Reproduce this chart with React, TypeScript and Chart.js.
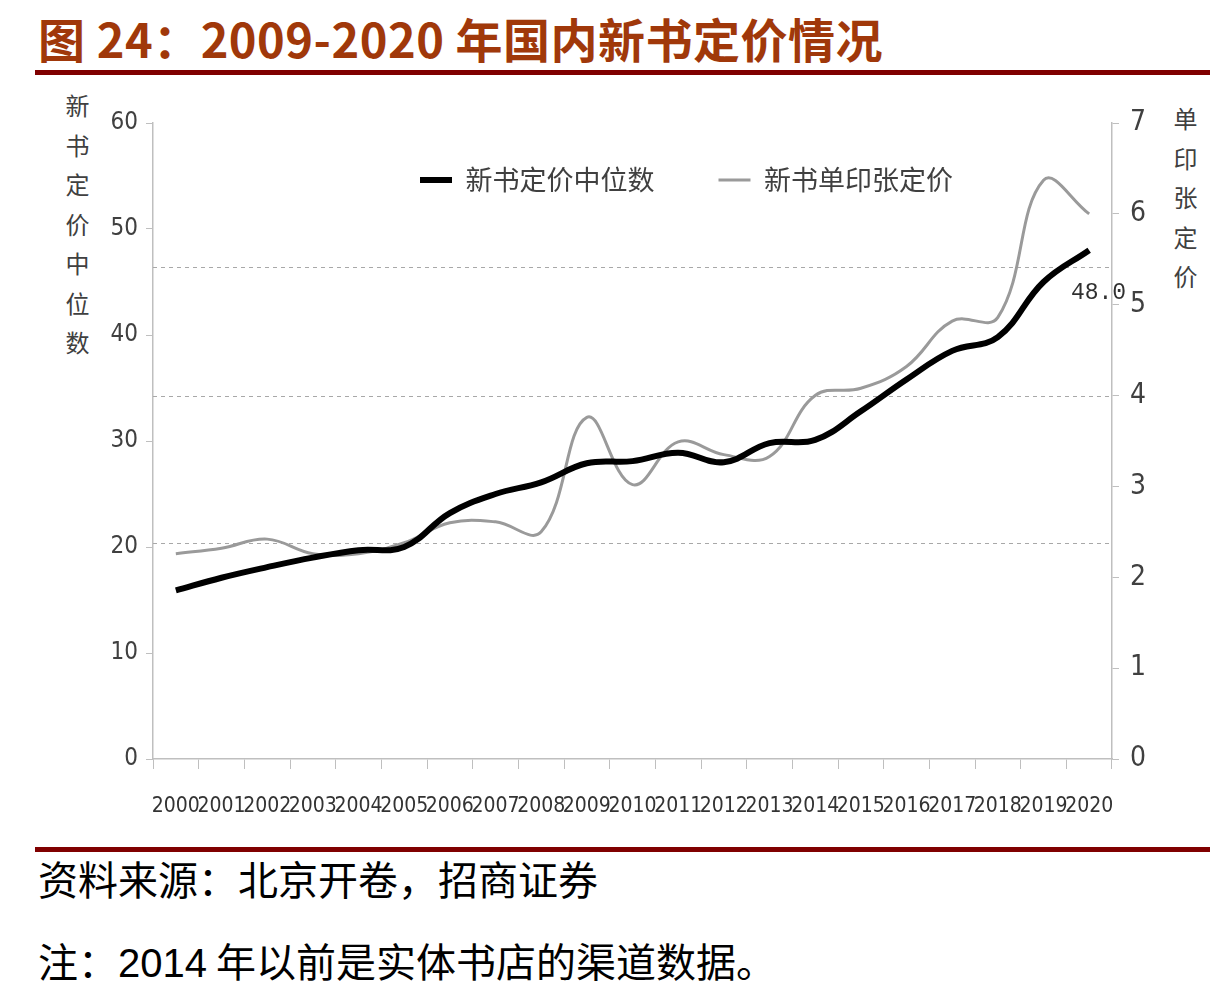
import React, { useEffect, useRef } from 'react';
import { Chart, registerables } from 'chart.js';

Chart.register(...registerables);

// ---- data ----
const years = ['2000', '2001', '2002', '2003', '2004', '2005', '2006', '2007', '2008', '2009', '2010',
  '2011', '2012', '2013', '2014', '2015', '2016', '2017', '2018', '2019', '2020'];
const medianPrice = [15.9, 17.1, 18.1, 19.0, 19.7, 20.0, 23.2, 25.0, 26.1, 27.9, 28.1,
  28.9, 28.0, 29.8, 30.1, 32.8, 35.8, 38.5, 39.8, 45.0, 48.0];
const sheetPrice = [2.26, 2.32, 2.42, 2.26, 2.26, 2.38, 2.6, 2.61, 2.5, 3.76, 3.02,
  3.49, 3.35, 3.33, 4.0, 4.08, 4.32, 4.82, 4.86, 6.37, 6.0];
const leftRange = [0, 60, 10];
const rightRange = [0, 7, 1];
const refLines = [2.38, 4.0, 5.41];
const seriesNames = ['新书定价中位数', '新书单印张定价'];

const TITLE = '图 24：2009-2020 年国内新书定价情况';
const LEFT_TITLE = '新书定价中位数';
const RIGHT_TITLE = '单印张定价';
const SOURCE = '资料来源：北京开卷，招商证券';

const CJK = "'Noto Sans CJK SC', 'Noto Sans', sans-serif";
const NUM = "'Liberation Sans Narrow', 'DejaVu Sans Condensed', 'Liberation Sans', Arial, sans-serif";
const AXIS = '#bfbfbf';
const TXT = '#404040';

const CANVAS_TOP = 80;
const LEG_X = 420;
const LEG_CY = 180;

const overlay = {
  id: 'overlay',
  afterLayout(chart: any) {
    const lg = chart.legend;
    if (!lg) return;
    const pad = lg.options.labels.padding;
    const fs = lg.options.labels.font.size;
    const top = LEG_CY - CANVAS_TOP - fs / 2;
    lg.left = LEG_X - pad;
    lg.right = chart.width;
    lg.top = top - pad;
    lg.bottom = top + fs + 10;
  },
  beforeDatasetsDraw(chart: any) {
    const { ctx, chartArea: a } = chart;
    const s = chart.scales.y1;
    ctx.save();
    ctx.strokeStyle = '#a8a8a8';
    ctx.lineWidth = 1;
    ctx.setLineDash([4, 4]);
    refLines.forEach((v) => {
      const y = Math.round(s.getPixelForValue(v)) + 0.5;
      ctx.beginPath();
      ctx.moveTo(a.left, y);
      ctx.lineTo(a.right, y);
      ctx.stroke();
    });
    ctx.restore();
  },
  afterDatasetsDraw(chart: any) {
    const { ctx } = chart;
    const meta = chart.getDatasetMeta(0);
    const pt = meta.data[meta.data.length - 1];
    if (!pt) return;
    ctx.save();
    ctx.font = "23px 'Liberation Mono', 'DejaVu Sans Mono', monospace";
    ctx.fillStyle = '#303030';
    ctx.textAlign = 'right';
    ctx.textBaseline = 'middle';
    ctx.fillText(medianPrice[medianPrice.length - 1].toFixed(1), pt.x + 37, pt.y + 43);
    ctx.restore();
  },
};

function ChartBox() {
  const ref = useRef<HTMLCanvasElement | null>(null);
  useEffect(() => {
    if (!ref.current) return;
    const chart = new Chart(ref.current, {
      type: 'line',
      data: {
        labels: years,
        datasets: [
          {
            label: seriesNames[0],
            data: medianPrice,
            yAxisID: 'y',
            borderColor: '#000000',
            backgroundColor: '#000000',
            borderWidth: 6,
            pointRadius: 0,
            tension: 0.4,
          },
          {
            label: seriesNames[1],
            data: sheetPrice,
            yAxisID: 'y1',
            borderColor: '#9a9a9a',
            backgroundColor: '#9a9a9a',
            borderWidth: 3,
            pointRadius: 0,
            tension: 0.4,
          },
        ],
      },
      options: {
        responsive: false,
        animation: false,
        events: [],
        layout: { padding: { top: 42, left: 0, right: 0, bottom: 0 } },
        plugins: {
          title: { display: false },
          tooltip: { enabled: false },
          legend: {
            display: true,
            position: 'top',
            align: 'start',
            maxHeight: 1,
            labels: {
              usePointStyle: true,
              pointStyle: 'line',
              pointStyleWidth: 32,
              boxHeight: 27,
              padding: 64,
              color: TXT,
              font: { family: CJK, size: 27 },
            },
          },
        },
        scales: {
          x: {
            type: 'category',
            offset: true,
            grid: { display: true, offset: true, drawOnChartArea: false, drawTicks: true, tickLength: 10, color: AXIS },
            border: { display: true, color: AXIS, width: 1.5 },
            ticks: { autoSkip: false, maxRotation: 0, minRotation: 0, padding: 25, color: '#333', font: { family: NUM, size: 21 } },
            afterFit: (s: any) => { s.height = 81; },
          },
          y: {
            position: 'left',
            min: leftRange[0],
            max: leftRange[1],
            ticks: { stepSize: leftRange[2], padding: 8, color: TXT, font: { family: NUM, size: 24 } },
            grid: { drawOnChartArea: false, drawTicks: true, tickLength: 7, color: AXIS },
            border: { display: true, color: AXIS, width: 1.5 },
            afterFit: (s: any) => { s.width = 153; },
          },
          y1: {
            position: 'right',
            min: rightRange[0],
            max: rightRange[1],
            ticks: { stepSize: rightRange[2], padding: 11, color: TXT, font: { family: NUM, size: 28 } },
            grid: { drawOnChartArea: false, drawTicks: true, tickLength: 7, color: AXIS },
            border: { display: true, color: AXIS, width: 1.5 },
            afterFit: (s: any) => { s.width = 98; },
          },
        },
      },
      plugins: [overlay],
    } as any);
    return () => chart.destroy();
  }, []);
  return (
    <canvas
      ref={ref}
      width={1210}
      height={760}
      style={{ position: 'absolute', left: 0, top: CANVAS_TOP, width: 1210, height: 760 }}
    />
  );
}

export default function App() {
  const vert: React.CSSProperties = {
    position: 'absolute',
    writingMode: 'vertical-rl',
    fontFamily: CJK,
    fontSize: 24,
    lineHeight: '26px',
    letterSpacing: '15.5px',
    color: TXT,
  };
  return (
    <div style={{ position: 'absolute', left: 0, top: 0, width: 1210, height: 995, background: '#fff', overflow: 'hidden' }}>
      <div style={{ position: 'absolute', left: 38, top: 10, fontFamily: CJK, fontWeight: 700, fontSize: 47, lineHeight: '56px', letterSpacing: '0.5px', color: '#A0380A', whiteSpace: 'nowrap' }}>
        {TITLE}
      </div>
      <div style={{ position: 'absolute', left: 35, top: 70, width: 1175, height: 5, background: '#800000' }} />
      <div style={{ ...vert, left: 64, top: 94 }}>{LEFT_TITLE}</div>
      <div style={{ ...vert, left: 1172, top: 107 }}>{RIGHT_TITLE}</div>
      <ChartBox />
      <div style={{ position: 'absolute', left: 35, top: 847, width: 1175, height: 5, background: '#800000' }} />
      <div style={{ position: 'absolute', left: 38, top: 855, fontFamily: CJK, fontSize: 40, lineHeight: '46px', color: '#000', whiteSpace: 'nowrap' }}>
        {SOURCE}
      </div>
      <div style={{ position: 'absolute', left: 38, top: 937, fontFamily: CJK, fontSize: 40, lineHeight: '46px', color: '#000', whiteSpace: 'nowrap' }}>
        注：<span style={{ fontFamily: "'Liberation Sans', Arial, sans-serif" }}>2014</span> 年以前是实体书店的渠道数据。
      </div>
    </div>
  );
}
